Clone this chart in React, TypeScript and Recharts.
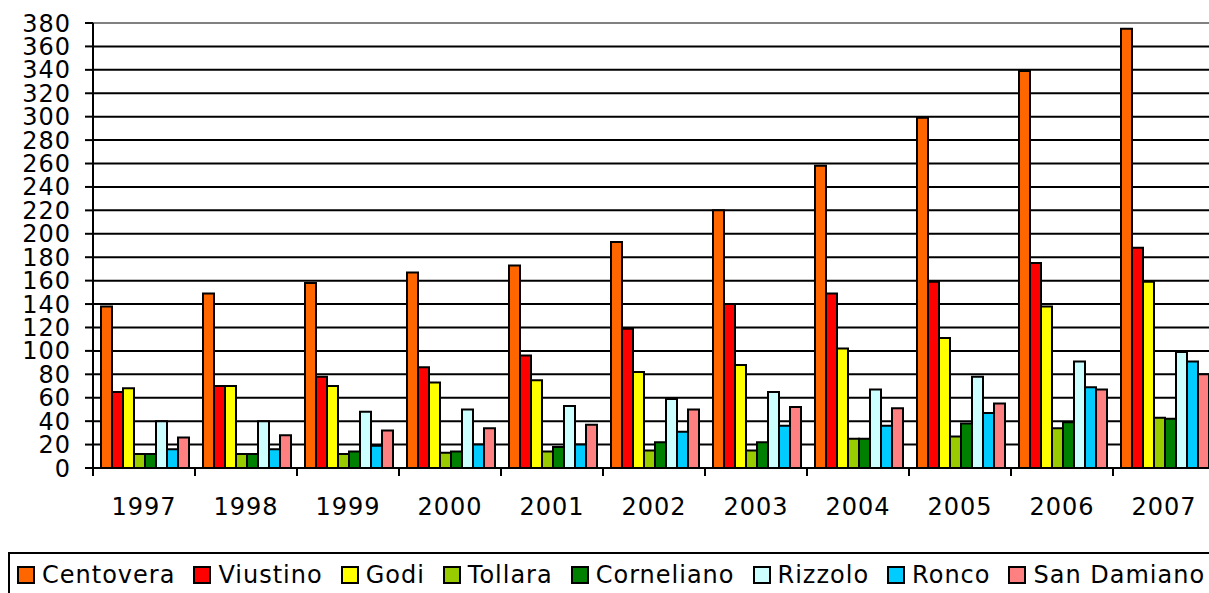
import { BarChart, Bar, XAxis, YAxis, CartesianGrid, ReferenceLine } from 'recharts';

const years = ['1997', '1998', '1999', '2000', '2001', '2002', '2003', '2004', '2005', '2006', '2007'];

const centovera = [138, 149, 158, 167, 173, 193, 220, 258, 299, 339, 375];
const viustino = [65, 70, 78, 86, 96, 119, 140, 149, 159, 175, 188];
const godi = [68, 70, 70, 73, 75, 82, 88, 102, 111, 138, 159];
const tollara = [12, 12, 12, 13, 14, 15, 15, 25, 27, 34, 43];
const corneliano = [12, 12, 14, 14, 18, 22, 22, 25, 38, 39, 42];
const rizzolo = [40, 40, 48, 50, 53, 59, 65, 67, 78, 91, 99];
const ronco = [16, 16, 19, 20, 20, 31, 36, 36, 47, 69, 91];
const sanDamiano = [26, 28, 32, 34, 37, 50, 52, 51, 55, 67, 80];

const yTicks = [0, 20, 40, 60, 80, 100, 120, 140, 160, 180, 200, 220, 240, 260, 280, 300, 320, 340, 360, 380];

const series = [
  { key: 'Centovera', values: centovera, color: '#ff6600' },
  { key: 'Viustino', values: viustino, color: '#ff0000' },
  { key: 'Godi', values: godi, color: '#ffff00' },
  { key: 'Tollara', values: tollara, color: '#99cc00' },
  { key: 'Corneliano', values: corneliano, color: '#008000' },
  { key: 'Rizzolo', values: rizzolo, color: '#ccffff' },
  { key: 'Ronco', values: ronco, color: '#00ccff' },
  { key: 'San Damiano', values: sanDamiano, color: '#ff8080' },
];

const data = years.map((year, i) => {
  const row: Record<string, string | number> = { year };
  series.forEach((s) => {
    row[s.key] = s.values[i];
  });
  return row;
});

const FONT = '"DejaVu Sans", Verdana, sans-serif';
const X_TICK_MARGIN = 30;

// category axis ticks sit on the boundaries between years (Excel style)
function YearTick(props: any) {
  const { x, y, payload } = props;
  const half = payload.offset ?? 51;
  const axisY = y - X_TICK_MARGIN;
  return (
    <g>
      <line x1={x - half} x2={x - half} y1={axisY} y2={axisY + 8} stroke="#000" strokeWidth={2} />
      <text
        x={x}
        y={y}
        dy="0.71em"
        textAnchor="middle"
        fill="#000"
        fontSize={24}
        fontFamily={FONT}
        letterSpacing={1}
      >
        {payload.value}
      </text>
    </g>
  );
}

export default function App() {
  return (
    <div
      style={{
        position: 'absolute',
        left: 0,
        top: 0,
        width: 1209,
        height: 593,
        overflow: 'hidden',
        background: '#fff',
      }}
    >
      <BarChart
        width={1230}
        height={540}
        data={data}
        margin={{ top: 23, right: 15, bottom: 0, left: 0 }}
        barCategoryGap={8}
        barGap={0}
      >
        <CartesianGrid vertical={false} stroke="#000" strokeWidth={2} />
        <ReferenceLine y={380} stroke="#808080" strokeWidth={2} />
        <XAxis
          dataKey="year"
          height={72}
          axisLine={{ stroke: '#000', strokeWidth: 2 }}
          tickLine={false}
          tickSize={0}
          tickMargin={X_TICK_MARGIN}
          tick={<YearTick />}
          interval={0}
        />
        <YAxis
          width={93}
          domain={[0, 380]}
          ticks={yTicks}
          interval={0}
          axisLine={{ stroke: '#000', strokeWidth: 2 }}
          tickLine={{ stroke: '#000', strokeWidth: 2 }}
          tickSize={8}
          tickMargin={14}
          tick={{ fill: '#000', fontSize: 24, fontFamily: FONT, letterSpacing: 1 }}
        />
        {series.map((s) => (
          <Bar
            key={s.key}
            dataKey={s.key}
            fill={s.color}
            stroke="#000"
            strokeWidth={2}
            isAnimationActive={false}
          />
        ))}
      </BarChart>

      {/* Legend */}
      <div
        style={{
          position: 'absolute',
          left: 8,
          top: 552,
          width: 1240,
          height: 70,
          border: '2px solid #000',
          boxSizing: 'border-box',
        }}
      >
        <div
          style={{
            display: 'flex',
            alignItems: 'center',
            height: 41,
            paddingLeft: 7,
            fontFamily: FONT,
            fontSize: 24,
            letterSpacing: 1,
            color: '#000',
            whiteSpace: 'nowrap',
          }}
        >
          {series.map((s) => (
            <div key={s.key} style={{ display: 'flex', alignItems: 'center', marginRight: 18 }}>
              <div
                style={{
                  width: 18,
                  height: 18,
                  background: s.color,
                  border: '2px solid #000',
                  boxSizing: 'border-box',
                  marginRight: 7,
                }}
              />
              <span>{s.key}</span>
            </div>
          ))}
        </div>
      </div>
    </div>
  );
}
